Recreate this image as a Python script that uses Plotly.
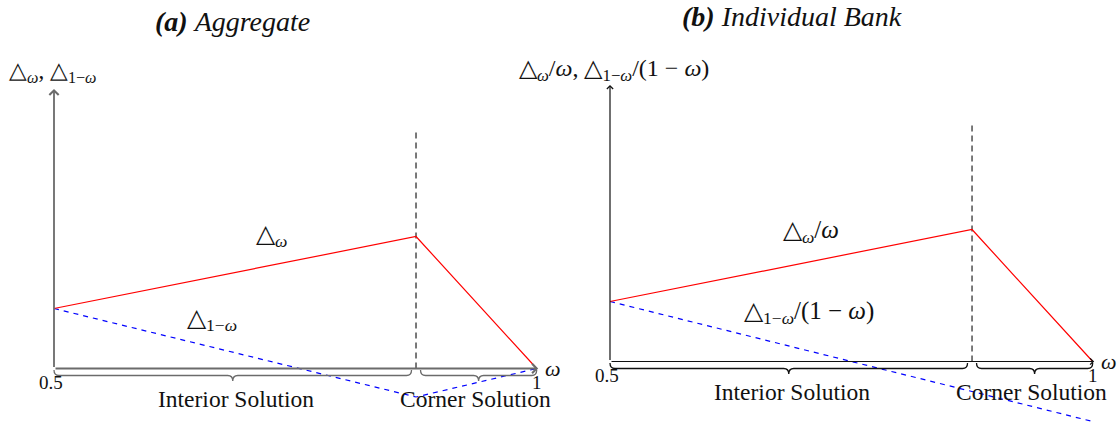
import plotly.graph_objects as go

# --- data -------------------------------------------------------------
omega = [0.5, 0.875, 1.0]          # kink at omega* = 0.875
omega_star = 0.875
agg_delta_w = [1.0, 2.2, 0.0]       # aggregate Delta_omega
agg_delta_1w = [1.0, -0.475, 0.0]   # aggregate Delta_{1-omega}
bank_delta_w = [1.0, 2.2, 0.0]      # Delta_omega / omega
bank_delta_1w = [1.0, -0.5, -1.0]   # Delta_{1-omega} / (1-omega)
x_tick_vals = [0.5, 1.0]
x_tick_text = ["0.5", "1"]
y_axis_tip = [4.66, 4.61]
dash_top = 3.95

# --- geometry ---------------------------------------------------------
W, H = 1119, 427
SX = 965.4   # px per unit omega
SY = 60.0    # px per unit of Delta
panels = [
    dict(ox=54.0, oy=368.5, d0=0.0, d1=559.5, axc="#6b6b6b", axw=1.8,
         dashc="#6b6b6b", dashw=1.8, xr="x", yr="y"),
    dict(ox=610.0, oy=361.5, d0=559.5, d1=1119.0, axc="#111111", axw=1.2,
         dashc="#111111", dashw=1.1, xr="x2", yr="y2"),
]

def xrange_of(p):
    return [0.5 - (p["ox"] - p["d0"]) / SX, 0.5 + (p["d1"] - p["ox"]) / SX]

def yrange_of(p):
    return [-(H - p["oy"]) / SY, p["oy"] / SY]

def dx(px):
    return px / SX

def dy(px):
    return px / SY

RED = "#ff0000"
BLUE = "#0000ff"
FONT = "Liberation Serif"

fig = go.Figure()
series = [(agg_delta_w, agg_delta_1w), (bank_delta_w, bank_delta_1w)]
annotations = []
shapes = []

def brace(w0, w1, top_px=1.5, mid_px=7.0, tip_px=12.5, arm=5.0):
    t = -dy(top_px)
    m = -dy(mid_px)
    k = -dy(tip_px)
    wm = (w0 + w1) / 2
    a = dx(arm)
    return (f"M {w0},{t} Q {w0},{m} {w0 + a},{m} L {wm - a},{m} "
            f"Q {wm},{m} {wm},{k} Q {wm},{m} {wm + a},{m} "
            f"L {w1 - a},{m} Q {w1},{m} {w1},{t}")

for i, (p, (red_y, blue_y)) in enumerate(zip(panels, series)):
    xa, ya = p["xr"], p["yr"]
    # vertical dashed line at the kink
    fig.add_trace(go.Scatter(x=[omega_star, omega_star], y=[0, dash_top], mode="lines",
                             line=dict(color=p["dashc"], width=p["dashw"], dash="6px,4px"),
                             xaxis=xa, yaxis=ya, hoverinfo="skip", showlegend=False))
    fig.add_trace(go.Scatter(x=omega, y=blue_y, mode="lines",
                             line=dict(color=BLUE, width=1.2, dash="5px,5px"),
                             xaxis=xa, yaxis=ya, hoverinfo="skip", showlegend=False))
    fig.add_trace(go.Scatter(x=omega, y=red_y, mode="lines",
                             line=dict(color=RED, width=1.2),
                             xaxis=xa, yaxis=ya, hoverinfo="skip", showlegend=False))

    # axes with arrow heads
    arr = dict(text="", showarrow=True, arrowhead=4, arrowsize=1.0,
               arrowwidth=p["axw"], arrowcolor=p["axc"], xref=xa, yref=ya,
               axref=xa, ayref=ya)
    annotations.append(dict(arr, x=0.5, y=y_axis_tip[i], ax=0.5, ay=0))
    annotations.append(dict(arr, x=1.0 + dx(1.5), y=0, ax=0.5, ay=0))

    # curly braces below the omega axis
    gap = dx(4.5)
    for w0, w1 in [(0.5, omega_star - gap), (omega_star + gap, 1.0)]:
        shapes.append(dict(type="path", path=brace(w0, w1), xref=xa, yref=ya,
                           line=dict(color=p["axc"], width=1.3)))

    # tick labels and axis name
    for v, t in zip(x_tick_vals, x_tick_text):
        off = -3 if v == 0.5 else 0
        annotations.append(dict(text=t, x=v + dx(off), y=-dy(13.5), xref=xa, yref=ya,
                                showarrow=False, xanchor="center", yanchor="middle",
                                font=dict(family=FONT, size=19, color="#111")))
    annotations.append(dict(text="<i>ω</i>", x=1.0 + dx(16), y=dy(0.5), xref=xa, yref=ya,
                            showarrow=False, xanchor="center", yanchor="middle",
                            font=dict(family=FONT, size=22, color="#111")))
    # regime labels
    annotations.append(dict(text="Interior Solution", x=(0.5 + omega_star) / 2 + dx(1),
                            y=-dy(30.5), xref=xa, yref=ya, showarrow=False,
                            xanchor="center", yanchor="middle",
                            font=dict(family=FONT, size=23.5, color="#111")))
    annotations.append(dict(text="Corner Solution", x=(omega_star + 1.0) / 2 + dx(-1),
                            y=-dy(30.5), xref=xa, yref=ya, showarrow=False,
                            xanchor="center", yanchor="middle",
                            font=dict(family=FONT, size=23.5, color="#111")))

def paper_text(text, px, py, size, **kw):
    annotations.append(dict(text=text, x=px / W, y=1 - py / H, xref="paper", yref="paper",
                            showarrow=False, xanchor="center", yanchor="middle",
                            font=dict(family=FONT, size=size, color="#111"), **kw))

# titles
paper_text("<b><i>(a)</i></b> <i>Aggregate</i>", 232, 21, 28)
paper_text("<b><i>(b)</i></b> <i>Individual Bank</i>", 792, 16, 28)

# y-axis names
paper_text("△<sub><i>ω</i></sub>, △<sub>1−<i>ω</i></sub>", 52, 72, 23)
paper_text("△<sub><i>ω</i></sub>/<i>ω</i>, △<sub>1−<i>ω</i></sub>/(1 − <i>ω</i>)", 614, 70, 24)

# curve labels
paper_text("△<sub><i>ω</i></sub>", 271, 236, 25)
paper_text("△<sub>1−<i>ω</i></sub>", 212, 319, 25)
paper_text("△<sub><i>ω</i></sub>/<i>ω</i>", 811, 231, 25)
paper_text("△<sub>1−<i>ω</i></sub>/(1 − <i>ω</i>)", 809, 312, 25)

axis_common = dict(visible=False, showgrid=False, zeroline=False, fixedrange=True)
fig.update_layout(
    width=W, height=H,
    margin=dict(l=0, r=0, t=0, b=0),
    paper_bgcolor="white", plot_bgcolor="white",
    showlegend=False,
    xaxis=dict(axis_common, domain=[panels[0]["d0"] / W, panels[0]["d1"] / W],
               range=xrange_of(panels[0])),
    yaxis=dict(axis_common, domain=[0, 1], range=yrange_of(panels[0])),
    xaxis2=dict(axis_common, domain=[panels[1]["d0"] / W, panels[1]["d1"] / W],
                range=xrange_of(panels[1])),
    yaxis2=dict(axis_common, domain=[0, 1], range=yrange_of(panels[1]), anchor="x2"),
    annotations=annotations,
    shapes=shapes,
)

fig.write_html("out.html")
